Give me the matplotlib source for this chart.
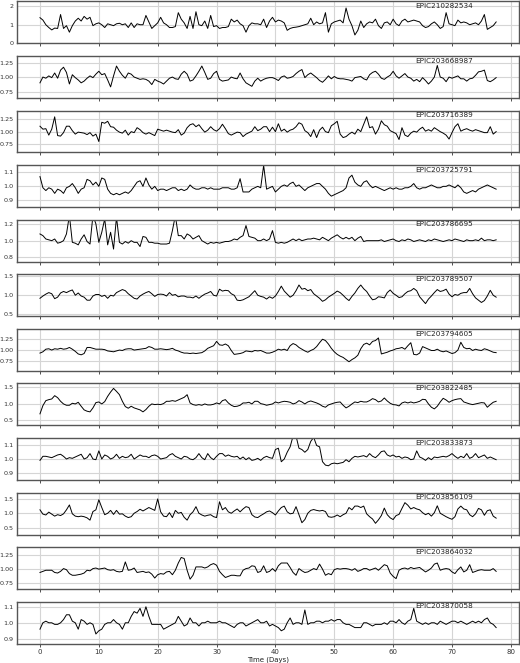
import matplotlib
matplotlib.use("Agg")
import matplotlib.pyplot as plt
import numpy as np

STEP = 0.5

names = ["EPIC210282534", "EPIC203668987", "EPIC203716389", "EPIC203725791",
         "EPIC203786695", "EPIC203789507", "EPIC203794605", "EPIC203822485",
         "EPIC203833873", "EPIC203856109", "EPIC203864032", "EPIC203870058"]

flux_210282534 = [
    1.38, 1.25, 1.0, 0.85, 0.72, 0.82, 0.8, 1.55, 0.8, 0.95,
    0.6, 0.95, 1.2, 1.35, 1.2, 1.45, 1.3, 1.4, 0.95, 1.05,
    1.1, 1.0, 0.85, 1.05, 1.0, 0.95, 1.05, 1.08, 1.0, 1.05,
    0.85, 1.1, 0.85, 1.05, 1.0, 1.0, 1.5, 1.15, 0.8, 0.95,
    1.1, 1.4, 1.1, 1.0, 0.85, 0.85, 0.9, 1.65, 1.3, 1.1,
    0.8, 1.45, 0.8, 1.7, 1.0, 0.95, 1.2, 0.8, 1.5, 0.9,
    0.95, 0.8, 0.85, 0.85, 0.9, 1.3, 1.15, 1.25, 1.05, 0.95,
    0.6, 0.95, 1.1, 1.05, 1.05, 1.0, 1.3, 0.85, 1.2, 1.4,
    1.15, 1.25, 1.2, 1.1, 0.7, 0.8, 0.85, 0.87, 0.9, 0.95,
    1.0, 1.05, 1.35, 1.0, 1.15, 1.05, 1.1, 1.65, 0.6, 1.05,
    1.15, 1.2, 1.25, 1.1, 1.9, 1.3, 0.95, 0.45, 0.7, 1.2,
    0.85, 1.05, 1.15, 1.1, 1.3, 0.95, 0.8, 1.1, 1.15, 1.0,
    1.3, 1.05, 0.95, 1.2, 1.3, 1.15, 1.2, 1.25, 1.2, 1.15,
    0.95, 0.85, 0.9, 1.05, 1.15, 1.0, 0.8, 0.9, 1.65, 1.05,
    1.0, 0.95, 1.25, 1.1, 1.15, 1.1, 1.0, 1.05, 1.1, 1.0,
    1.2, 1.55, 0.75, 0.85, 0.95, 1.15]

flux_203668987 = [
    0.9, 1.0, 0.98, 1.02, 0.99, 1.07, 0.98, 1.12, 1.17, 1.08,
    0.88, 1.04, 0.99, 0.95, 0.9, 0.93, 0.98, 1.02, 0.99, 1.05,
    1.1, 1.04, 1.06, 0.95, 0.83, 1.02, 1.19, 1.1, 1.03, 0.98,
    1.07, 1.05, 1.0, 0.98, 0.96, 0.97, 0.96, 0.93, 0.87, 0.96,
    0.93, 0.91, 0.88, 0.93, 0.98, 1.0, 0.97, 0.96, 1.05, 1.1,
    1.05, 0.93, 0.95, 1.02, 1.1, 1.19, 1.08, 0.96, 0.98, 1.06,
    1.1, 0.96, 0.93, 0.94, 0.95, 1.0, 0.98, 0.97, 1.07, 0.97,
    0.9, 0.87, 0.84, 0.93, 0.98, 0.93, 0.96, 0.98, 0.99, 0.99,
    0.97, 0.94, 1.0, 1.02, 0.98, 0.99, 1.01, 1.06, 1.1, 1.13,
    0.99, 1.04, 1.07, 1.03, 0.99, 0.94, 0.91, 0.96, 1.02, 0.97,
    1.01, 0.98, 0.97, 0.97, 0.96, 0.95, 0.93, 0.99, 1.0, 1.01,
    0.97, 0.95, 1.04, 1.08, 1.1, 1.05, 0.98, 0.96, 1.0, 1.03,
    1.1, 1.02, 0.98, 1.02, 1.06, 1.0, 0.98, 0.93, 0.96, 0.92,
    0.99, 0.94, 0.88, 0.93, 1.0, 1.2, 1.0, 0.98, 0.92, 1.0,
    0.98, 1.0, 1.02, 0.97, 0.97, 0.93, 0.97, 0.98, 1.03, 1.09,
    1.1, 1.12, 0.94, 0.92, 0.95, 0.99]

flux_203716389 = [
    1.11, 1.05, 1.06, 0.93, 1.05, 1.3, 0.92, 0.91, 0.98, 1.11,
    1.11, 1.02, 0.95, 0.99, 0.98, 0.97, 0.94, 0.98, 0.91, 0.95,
    0.8, 1.19, 1.17, 1.21, 1.1, 1.09, 1.03, 0.99, 0.97, 1.03,
    0.93, 1.0, 0.98, 1.08, 1.04, 0.98, 0.95, 0.98, 0.95, 0.92,
    1.05, 1.03, 1.01, 1.03, 1.01, 0.99, 0.98, 1.04, 0.93, 0.97,
    1.08, 1.14, 1.16, 1.1, 1.14, 1.06, 0.99, 1.03, 1.1, 1.04,
    1.01, 1.06, 1.15, 1.06, 0.96, 0.93, 0.96, 0.99, 0.98, 0.9,
    0.95, 0.98, 1.01, 1.1, 1.02, 1.05, 1.1, 1.1, 1.0, 1.09,
    1.0, 1.16, 1.01, 1.05, 0.99, 1.03, 1.05, 1.1, 1.18, 1.15,
    1.02, 0.98, 0.9, 1.04, 0.88, 1.03, 1.09, 1.0, 0.98, 1.12,
    1.16, 1.21, 0.95, 0.88, 0.9, 0.95, 0.99, 0.95, 1.05, 1.0,
    1.15, 1.3, 1.08, 1.1, 0.95, 1.05, 1.22, 1.14, 1.11, 1.02,
    0.99, 0.96, 0.84, 1.08, 0.93, 0.9, 0.97, 1.01, 0.99, 1.05,
    1.09, 1.01, 1.04, 1.01, 1.08, 1.04, 1.0, 0.97, 0.93, 0.85,
    0.98, 1.1, 1.16, 1.01, 1.04, 1.06, 1.03, 1.01, 1.04, 1.02,
    1.0, 0.98, 0.98, 1.1, 0.95, 1.0]

flux_203725791 = [
    1.07, 0.99, 0.97, 0.99, 0.98, 0.95, 0.98, 0.97, 0.95, 0.99,
    1.0, 1.02, 0.99, 0.95, 0.98, 0.99, 1.05, 1.04, 1.01, 1.03,
    1.0, 1.06, 1.05, 0.98, 0.95, 0.94, 0.95, 0.94, 0.95, 0.96,
    0.95, 0.97, 1.0, 1.03, 1.04, 1.0, 1.06, 1.01, 0.98, 1.0,
    0.97, 0.98, 0.98, 0.97, 0.98, 0.99, 0.99, 0.97, 0.98, 0.97,
    0.98, 1.01, 0.99, 0.98, 0.98, 0.99, 0.99, 0.98, 0.99, 0.98,
    0.98, 0.98, 0.99, 0.99, 0.99, 0.98, 0.98, 0.99, 1.055, 0.96,
    0.96, 0.96, 0.98, 0.99, 1.0, 0.99, 1.15, 0.98, 0.99, 1.0,
    0.96, 0.98, 1.0, 1.01, 1.0, 1.02, 1.03, 1.0, 1.01, 0.99,
    0.97, 0.99, 1.0, 1.01, 1.02, 1.02, 1.0, 0.98, 0.95, 0.93,
    0.94, 0.95, 0.96, 0.97, 0.99, 1.06, 1.08, 1.03, 1.01, 1.0,
    1.03, 1.04, 1.01, 0.99, 1.0, 0.99, 0.98, 0.97, 0.98, 0.99,
    0.98, 0.99, 0.98, 0.98, 0.99, 0.99, 1.0, 1.02, 0.99, 0.98,
    0.99, 0.99, 1.0, 1.01, 1.0, 0.99, 0.99, 1.0, 1.0, 1.01,
    1.0, 0.99, 1.01, 0.99, 0.96, 0.95, 0.96, 0.97, 0.96, 0.98,
    0.99, 1.0, 1.01, 1.0, 0.99, 0.98]

flux_203786695 = [
    1.08, 1.06, 1.02, 1.01, 1.0, 1.02, 0.97, 0.98, 1.0, 1.08,
    1.3, 0.98, 0.97, 0.95, 1.02, 1.07, 0.99, 0.96, 1.3, 1.2,
    0.98, 1.1, 1.26, 0.95, 1.1, 0.9, 1.28, 0.98, 0.96, 0.99,
    0.97, 1.0, 0.98, 0.98, 0.93, 1.05, 1.04, 0.98, 0.98, 0.97,
    0.97, 0.96, 0.96, 0.96, 0.97, 1.12, 1.3, 1.06, 1.06, 1.02,
    1.08, 1.06, 1.02, 1.04, 1.06, 1.0, 0.98, 0.96, 0.98, 0.97,
    0.98, 0.97, 0.98, 0.99, 0.99, 1.0, 1.02, 1.01, 1.04, 1.06,
    1.18, 1.05, 1.04, 1.03, 1.0, 1.0, 1.02, 1.0, 1.02, 1.12,
    0.98, 0.97, 0.98, 0.97, 0.98, 1.0, 1.02, 1.0, 1.02, 1.0,
    1.01, 1.02, 1.02, 1.03, 1.02, 1.01, 1.04, 1.02, 1.0, 1.03,
    1.05, 1.07, 1.04, 1.02, 1.04, 1.02, 1.04, 1.0, 1.03, 1.05,
    0.99, 1.0, 1.0, 1.0, 1.0, 1.0, 1.01, 0.99, 1.0, 1.01,
    1.02, 1.0, 0.99, 1.01, 1.0, 1.02, 1.01, 0.99, 1.0, 1.01,
    1.0, 0.99, 1.01, 1.0, 1.02, 1.01, 1.0, 0.99, 1.0, 1.01,
    1.0, 1.02, 1.01, 1.0, 0.99, 1.01, 1.0, 1.0, 1.01, 1.0,
    1.03, 1.0, 1.01, 1.01, 1.0, 1.01]

flux_203789507 = [
    0.92, 0.98, 1.03, 1.07, 1.04, 0.91, 0.95, 1.06, 1.1, 1.07,
    1.11, 1.14, 1.0, 1.06, 0.98, 0.95, 0.87, 0.87, 0.98, 1.02,
    1.02, 0.97, 1.0, 0.92, 1.0, 0.98, 1.07, 1.11, 1.15, 1.12,
    1.04, 0.98, 0.92, 0.9, 0.98, 1.03, 1.07, 1.1, 1.04, 0.97,
    1.02, 1.03, 1.02, 0.98, 1.07, 1.0, 1.02, 0.96, 0.98, 0.98,
    0.95, 0.95, 0.93, 0.98, 0.92, 0.98, 1.03, 1.06, 1.1, 1.0,
    0.98, 1.16, 1.11, 1.13, 1.12, 1.04, 1.0, 0.87, 0.86, 0.88,
    0.92, 0.96, 1.04, 1.12, 1.0, 0.97, 0.95, 0.9, 0.96, 0.92,
    0.98, 1.1, 1.24, 1.11, 1.03, 0.95, 1.0, 1.12, 1.27, 1.16,
    1.18, 1.12, 1.15, 1.04, 0.98, 0.92, 0.84, 0.88, 0.95, 1.0,
    1.05, 1.11, 1.07, 1.0, 0.92, 0.86, 0.97, 1.06, 1.18, 1.27,
    1.17, 1.1, 0.98, 0.88, 0.9, 0.96, 0.95, 0.93, 1.07, 1.14,
    1.05, 1.0, 0.94, 0.96, 1.04, 1.1, 1.12, 1.18, 1.12, 0.96,
    0.87, 0.78, 0.9, 0.98, 1.07, 1.15, 1.1, 1.12, 1.16, 1.03,
    0.96, 1.02, 1.0, 1.05, 1.07, 1.07, 1.18, 1.04, 0.93, 0.87,
    0.81, 0.86, 0.98, 1.13, 1.0, 0.95]

flux_203794605 = [
    0.93, 0.96, 1.02, 1.03, 1.0, 1.03, 1.02, 1.04, 1.02, 1.03,
    1.06, 1.02, 0.97, 0.91, 0.89, 0.92, 1.06, 1.06, 1.04, 1.02,
    1.02, 1.02, 1.01, 0.98, 0.97, 0.96, 0.98, 1.0, 0.99, 1.02,
    1.03, 1.03, 1.0, 1.01, 1.02, 1.03, 1.04, 1.08, 1.06, 1.02,
    1.02, 1.03, 1.02, 1.01, 1.02, 1.04, 1.0, 0.98, 0.95, 0.93,
    0.93, 0.92, 0.93, 0.92, 0.93, 0.94, 0.98, 1.04, 1.07, 1.1,
    1.2, 1.12, 1.11, 1.14, 1.1, 0.99, 0.9, 0.91, 0.92, 0.94,
    0.98, 0.97, 0.96, 0.99, 0.98, 0.99, 0.96, 0.93, 0.93, 0.95,
    0.98, 1.02, 1.0, 1.02, 0.99, 1.1, 1.15, 1.12, 1.06, 1.02,
    0.98, 0.95, 0.99, 1.02, 1.08, 1.17, 1.25, 1.22, 1.14, 1.04,
    0.96, 0.9, 0.86, 0.83, 0.78, 0.73, 0.78, 0.82, 0.88, 1.03,
    1.13, 1.16, 1.12, 1.2, 1.22, 1.28, 0.91, 0.93, 0.95, 0.98,
    1.0, 1.03, 1.04, 1.06, 1.02, 1.1, 1.17, 0.9, 0.89, 0.93,
    1.08, 1.05, 1.02, 0.99, 0.99, 1.02, 0.98, 0.96, 0.98, 0.95,
    0.92, 0.94, 1.0, 1.18, 1.06, 1.03, 1.04, 0.99, 1.02, 1.0,
    0.99, 1.03, 1.01, 0.98, 0.95, 0.94]

flux_203822485 = [
    0.7, 0.95, 1.1, 1.13, 1.15, 1.25, 1.19, 1.08, 1.0, 0.96,
    0.96, 1.02, 1.0, 1.05, 0.93, 0.82, 0.78, 0.76, 0.88, 1.04,
    1.06, 1.0, 1.07, 1.23, 1.36, 1.47, 1.38, 1.28, 1.08, 0.92,
    0.87, 0.93, 0.88, 0.85, 0.82, 0.76, 0.83, 0.93, 1.0, 0.98,
    0.99, 0.98, 1.01, 1.08, 1.08, 1.1, 1.08, 1.12, 1.16, 1.2,
    1.28, 1.03, 0.98, 0.96, 0.98, 0.96, 1.0, 0.97, 0.97, 0.99,
    1.03, 1.0, 1.1, 1.13, 1.03, 0.96, 0.92, 0.93, 0.96, 1.03,
    1.03, 1.05, 1.0, 1.08, 1.08, 1.01, 0.99, 0.96, 0.98, 1.0,
    1.06, 1.03, 1.06, 1.08, 1.07, 1.05, 1.0, 1.03, 1.1, 1.06,
    1.0, 1.06, 1.09, 1.06, 1.03, 0.99, 0.93, 0.9, 0.97, 1.0,
    1.03, 1.05, 1.06, 0.96, 0.88, 0.93, 1.0, 1.06, 1.04, 1.08,
    1.06, 1.06, 1.1, 1.16, 1.13, 1.06, 1.09, 1.18, 1.09, 1.02,
    0.98, 0.97, 0.94, 1.03, 1.06, 1.03, 1.06, 1.03, 1.05, 1.08,
    1.14, 1.13, 1.0, 0.9, 0.85, 0.93, 1.06, 1.17, 1.12, 1.05,
    1.1, 1.13, 1.15, 1.16, 1.06, 1.03, 1.0, 0.98, 1.0, 1.02,
    1.04, 1.03, 0.9, 0.98, 1.05, 1.08]

flux_203833873 = [
    0.99, 1.02, 1.02, 1.015, 1.01, 1.02, 1.03, 1.035, 1.02, 1.0,
    1.01, 1.005, 1.015, 1.025, 1.035, 1.0, 1.01, 1.04, 1.0, 0.995,
    1.06, 1.0, 1.03, 1.02, 1.0, 1.01, 1.035, 1.005, 1.02, 1.01,
    1.015, 1.035, 1.0, 1.015, 1.03, 1.02, 1.02, 1.01, 1.025, 1.03,
    1.02, 1.0, 1.005, 1.01, 1.03, 1.04, 1.02, 1.01, 1.0, 1.02,
    1.015, 1.0, 0.995, 1.01, 1.04, 1.01, 0.995, 1.04, 1.01, 0.995,
    1.02, 1.04, 1.04, 1.02, 1.03, 1.02, 1.015, 1.02, 1.0, 1.015,
    0.995, 1.01, 0.99, 0.995, 1.005, 0.99, 1.01, 1.02, 1.01, 1.005,
    1.07, 1.08, 0.98, 1.0, 1.05, 1.09, 1.17, 1.17, 1.08, 1.07,
    1.05, 1.07, 1.13, 1.16, 1.1, 1.09, 0.98, 0.955, 0.95, 0.965,
    0.97, 0.965, 0.97, 0.975, 0.995, 0.98, 1.005, 1.02, 1.015, 1.02,
    1.025, 1.015, 1.04, 1.02, 1.01, 1.03, 1.055, 1.06, 1.03, 1.02,
    1.03, 1.015, 1.02, 1.005, 1.015, 1.01, 0.995, 1.0, 1.06, 1.015,
    1.005, 0.99, 1.01, 0.995, 1.015, 1.01, 1.015, 1.02, 1.015, 1.025,
    1.04, 1.02, 1.005, 1.02, 1.01, 1.04, 1.005, 1.015, 1.04, 1.01,
    1.02, 1.03, 1.005, 1.015, 1.005, 0.995]

flux_203856109 = [
    1.12, 0.97, 0.94, 1.04, 0.97, 0.9, 0.95, 0.92, 0.98, 1.12,
    1.29, 0.98, 0.9, 0.88, 0.9, 0.88, 0.84, 0.76, 1.06, 1.12,
    1.47, 1.2, 0.95, 1.0, 1.1, 0.96, 1.1, 0.97, 0.98, 0.9,
    0.85, 0.88, 1.0, 1.06, 1.14, 1.08, 1.14, 1.2, 1.15, 1.1,
    1.5, 1.05, 0.9, 0.88, 1.02, 0.85, 1.1, 1.0, 1.03, 0.86,
    0.76, 0.95, 1.05, 1.23, 1.0, 0.94, 0.9, 0.93, 0.95, 0.88,
    0.85, 1.4, 1.12, 1.2, 1.05, 1.0, 1.08, 1.15, 1.05, 1.15,
    1.23, 1.2, 0.95, 0.87, 0.85, 0.92, 0.98, 1.05, 1.08, 1.02,
    0.94, 1.08, 1.2, 1.25, 1.05, 0.98, 1.0, 1.23, 0.95, 0.67,
    0.78, 1.0, 1.1, 1.13, 1.1, 1.08, 1.1, 1.06, 0.88, 0.86,
    0.88, 0.94, 0.88, 0.95, 1.0, 1.2, 1.12, 1.25, 1.25, 1.2,
    1.25, 0.98, 0.88, 0.8, 0.65, 0.77, 0.92, 1.18, 0.95, 0.84,
    0.78, 0.92, 0.96, 1.17, 1.37, 1.28, 1.15, 1.2, 1.15, 1.12,
    1.02, 0.95, 1.0, 0.9, 1.02, 1.26, 1.0, 0.94, 0.88, 0.83,
    0.79, 0.88, 1.15, 1.25, 1.15, 1.12, 0.95, 0.88, 0.98, 1.17,
    1.12, 0.93, 1.09, 1.12, 0.9, 0.83]

flux_203864032 = [
    0.93, 0.95, 0.97, 0.97, 0.97, 0.93, 0.92, 0.95, 1.0, 0.98,
    0.91, 0.88, 0.88, 0.89, 0.9, 0.92, 0.97, 0.96, 1.0, 1.01,
    0.99, 1.0, 1.01, 0.98, 0.97, 0.98, 0.95, 0.94, 0.95, 1.12,
    0.97, 0.98, 1.01, 0.93, 0.94, 0.95, 0.93, 0.94, 0.9, 0.83,
    0.89, 0.91, 0.9, 0.94, 0.95, 0.89, 0.97, 1.1, 1.2, 1.18,
    0.97, 0.81, 0.88, 1.03, 1.03, 1.03, 1.01, 1.03, 1.07, 1.09,
    1.06, 0.95, 0.89, 0.84, 0.86, 0.88, 0.88, 0.87, 0.87, 0.97,
    1.0, 1.01, 1.05, 1.04, 0.93, 0.95, 1.05, 0.93, 0.95, 1.0,
    0.95, 1.05, 1.1, 1.1, 1.1, 1.02, 0.93, 0.88, 1.0, 0.96,
    0.93, 0.94, 0.97, 1.0, 0.98, 1.08, 0.99, 0.88, 0.91, 0.89,
    0.98, 1.0, 0.99, 1.0, 1.0, 0.99, 0.97, 1.0, 0.95, 0.97,
    1.0, 1.0, 0.97, 0.99, 1.01, 0.97, 1.02, 1.07, 1.05, 0.92,
    0.86, 0.82, 0.97, 1.0, 1.01, 0.99, 1.02, 1.0, 1.01, 1.02,
    0.98, 0.94, 0.97, 1.01, 1.08, 1.1, 0.97, 0.99, 1.0, 0.99,
    0.94, 0.91, 0.98, 1.03, 0.94, 0.97, 1.07, 0.93, 0.95, 0.97,
    0.98, 0.97, 0.97, 0.97, 1.0, 0.95]

flux_203870058 = [
    0.96, 1.0, 1.01, 1.0, 1.0, 0.99, 0.99, 1.0, 1.02, 1.05,
    1.05, 1.01, 1.0, 0.96, 1.02, 1.01, 0.99, 1.0, 0.99, 0.93,
    0.95, 0.96, 0.99, 1.0, 1.0, 1.02, 1.0, 0.99, 0.96, 1.0,
    1.0, 1.04, 1.07, 1.06, 1.09, 1.04, 1.1, 1.04, 0.99, 0.99,
    0.99, 0.99, 0.96, 0.97, 0.98, 0.99, 1.0, 1.04, 1.01, 0.98,
    0.99, 1.03, 1.0, 1.0, 0.98, 1.0, 1.0, 1.01, 1.0, 1.0,
    1.0, 1.01, 1.0, 1.0, 0.99, 0.98, 0.97, 0.99, 1.0, 1.0,
    0.98, 0.99, 1.0, 1.01, 1.02, 1.0, 1.0, 1.01, 0.98, 0.99,
    0.98, 0.97, 0.95, 0.96, 1.0, 1.03, 0.99, 1.0, 1.0, 0.99,
    1.08, 0.99, 1.0, 1.0, 1.01, 1.01, 1.0, 1.01, 1.01, 1.02,
    1.01, 1.02, 1.02, 1.0, 0.99, 0.99, 0.98, 0.97, 0.97, 0.97,
    1.0, 1.0, 0.99, 0.98, 0.99, 0.99, 0.99, 1.0, 0.99, 1.01,
    1.01, 1.0, 1.02, 1.0, 0.99, 1.01, 1.02, 1.09, 1.01, 1.0,
    0.99, 1.0, 0.99, 1.0, 1.0, 0.99, 1.01, 1.0, 0.99, 1.0,
    1.01, 1.01, 1.0, 1.01, 1.0, 0.99, 1.0, 1.01, 1.0, 1.01,
    1.0, 1.02, 1.03, 1.0, 0.99, 0.97]

fluxes = [flux_210282534, flux_203668987, flux_203716389, flux_203725791,
          flux_203786695, flux_203789507, flux_203794605, flux_203822485,
          flux_203833873, flux_203856109, flux_203864032, flux_203870058]

ylims = [(0.0, 2.26), (0.64, 1.365), (0.578, 1.428), (0.852, 1.152),
         (0.75, 1.25), (0.447, 1.553), (0.52, 1.49), (0.35, 1.62),
         (0.845, 1.155), (0.256, 1.72), (0.63, 1.384), (0.869, 1.131)]
yticks = [[0, 1, 2], [0.75, 1.0, 1.25], [0.75, 1.0, 1.25], [0.9, 1.0, 1.1],
          [0.8, 1.0, 1.2], [0.5, 1.0, 1.5], [0.75, 1.0, 1.25], [0.5, 1.0, 1.5],
          [0.9, 1.0, 1.1], [0.5, 1.0, 1.5], [0.75, 1.0, 1.25], [0.9, 1.0, 1.1]]


fig, axes = plt.subplots(len(names), 1, sharex=True, figsize=(5.2, 6.63), dpi=100)
fig.subplots_adjust(left=0.033, right=0.998, top=0.998, bottom=0.029, hspace=0.3)

for ax, name, flux, lim, ticks in zip(axes, names, fluxes, ylims, yticks):
    flux = np.asarray(flux)
    days = STEP * np.arange(flux.size)
    ax.plot(days, flux, color='black', linewidth=0.7)
    ax.set_ylim(*lim)
    ax.set_yticks(ticks)
    ax.grid(True, color='#d5d5d5', linewidth=0.8)
    ax.set_axisbelow(True)
    for spine in ax.spines.values():
        spine.set_color('#555555')
        spine.set_linewidth(1.0)
    ax.tick_params(axis='x', labelsize=5, length=2.5, width=0.6, pad=1.5,
                   colors='#333333')
    ax.tick_params(axis='y', labelsize=4.6, length=0, pad=2.5, colors='#333333')
    ax.text(0.793, 0.96, name, transform=ax.transAxes, fontsize=5.2,
            va='top', ha='left', color='#222222')

axes[-1].set_xticks(range(0, 90, 10))
axes[-1].set_xlabel('Time (Days)', fontsize=5, labelpad=1, color='#222222')

fig.savefig('out.png', dpi=100)
